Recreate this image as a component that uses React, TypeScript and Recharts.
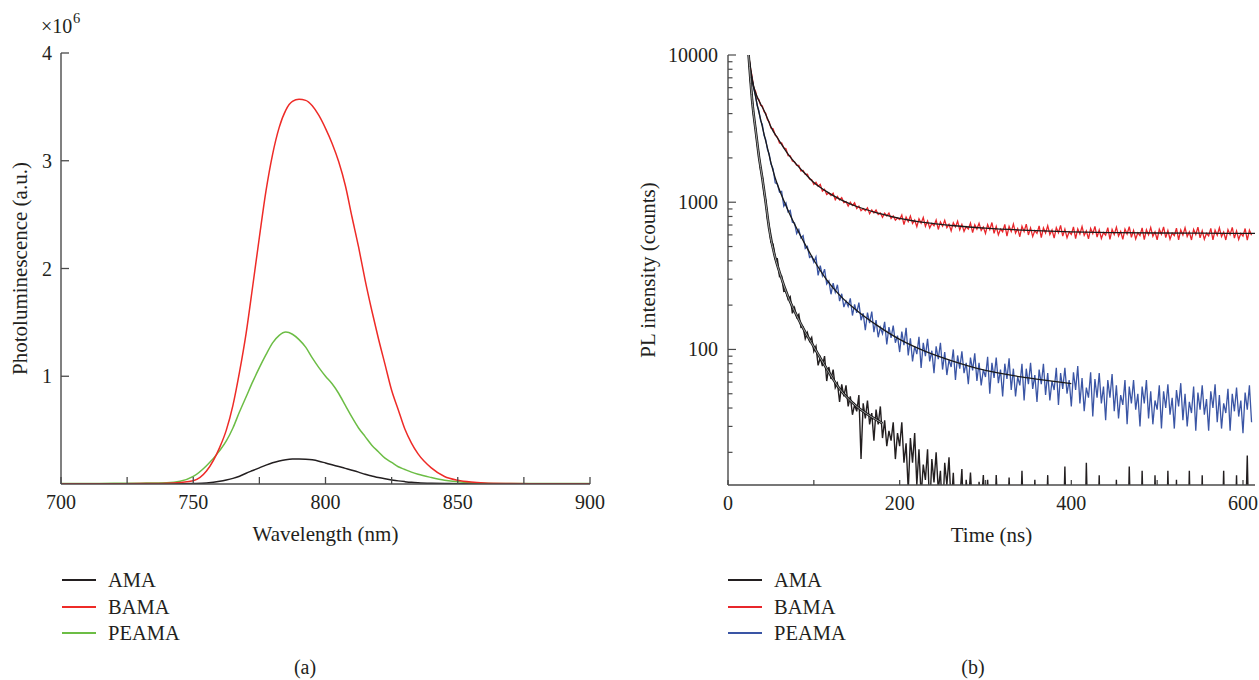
import React from 'react';
import { LineChart, Line, XAxis, YAxis, Label } from 'recharts';

const SERIF = '"Liberation Serif", "DejaVu Serif", serif';
const INK = '#231f20';
const AXIS = '#4a4a4a';
const TICK_FONT = 20;
const TITLE_FONT = 21;

// ---- (a) steady-state PL, intensity in units of 1e6 ----
const WAVELENGTH = [
  700, 710, 720, 730, 740, 745, 750, 755, 760,
  762.5, 765, 767.5, 770, 772.5, 775, 777.5, 780, 782.5, 785,
  787.5, 790, 792.5, 795, 797.5, 800, 802.5, 805, 807.5, 810,
  812.5, 815, 817.5, 820, 822.5, 825, 827.5, 830, 832.5, 835,
  840, 845, 850, 855, 860, 870, 880, 890, 900,
];
const AMA_PL = [
  0.002, 0.002, 0.002, 0.002, 0.002, 0.003, 0.005, 0.01, 0.025,
  0.037, 0.052, 0.072, 0.1, 0.125, 0.15, 0.175, 0.197, 0.213, 0.225,
  0.231, 0.232, 0.23, 0.224, 0.212, 0.195, 0.178, 0.162, 0.145, 0.128,
  0.11, 0.09, 0.075, 0.06, 0.048, 0.038, 0.029, 0.022, 0.016, 0.012,
  0.007, 0.004, 0.003, 0.002, 0.002, 0.002, 0.002, 0.002, 0.002,
];
const BAMA_PL = [
  0.003, 0.003, 0.003, 0.004, 0.008, 0.015, 0.03, 0.12, 0.34,
  0.5, 0.73, 1.04, 1.4, 1.84, 2.29, 2.72, 3.06, 3.31, 3.47,
  3.55, 3.57, 3.56, 3.51, 3.42, 3.3, 3.16, 2.99, 2.77, 2.48,
  2.2, 1.89, 1.61, 1.35, 1.11, 0.87, 0.69, 0.51, 0.38, 0.28,
  0.15, 0.07, 0.035, 0.018, 0.01, 0.005, 0.003, 0.003, 0.003,
];
const PEAMA_PL = [
  0.005, 0.005, 0.006, 0.008, 0.012, 0.025, 0.07, 0.17, 0.31,
  0.4, 0.52, 0.67, 0.81, 0.95, 1.08, 1.2, 1.31, 1.38, 1.41,
  1.39, 1.34, 1.27, 1.17, 1.08, 1.0, 0.93, 0.84, 0.73, 0.62,
  0.52, 0.44, 0.36, 0.3, 0.24, 0.2, 0.16, 0.135, 0.11, 0.09,
  0.06, 0.035, 0.02, 0.012, 0.008, 0.005, 0.004, 0.004, 0.004,
];
const WL_TICKS = [700, 725, 750, 775, 800, 825, 850, 875, 900];
const PL_TICKS = [1, 2, 3, 4];

// ---- (b) time-resolved PL (counts) ----
const TIME = [
  24, 26, 28, 30, 32, 34, 36, 38, 40, 42, 44, 46, 48, 50,
  52.5, 55, 57.5, 60, 62.5, 65, 67.5, 70, 72.5, 75, 77.5, 80, 82.5, 85, 87.5, 90, 92.5, 95, 97.5, 100,
  102.5, 105, 107.5, 110, 112.5, 115, 117.5, 120, 122.5, 125, 127.5, 130, 132.5, 135, 137.5, 140, 142.5, 145, 147.5, 150,
  152.5, 155, 157.5, 160, 162.5, 165, 167.5, 170, 172.5, 175, 177.5, 180, 182.5, 185, 187.5, 190, 192.5, 195, 197.5, 200,
  202.5, 205, 207.5, 210, 212.5, 215, 217.5, 220, 222.5, 225, 227.5, 230, 232.5, 235, 237.5, 240, 242.5, 245, 247.5, 250,
  252.5, 255, 257.5, 260, 262.5, 265, 267.5, 270, 272.5, 275, 277.5, 280, 282.5, 285, 287.5, 290, 292.5, 295, 297.5, 300,
  302.5, 305, 307.5, 310, 312.5, 315, 317.5, 320, 322.5, 325, 327.5, 330, 332.5, 335, 337.5, 340, 342.5, 345, 347.5, 350,
  352.5, 355, 357.5, 360, 362.5, 365, 367.5, 370, 372.5, 375, 377.5, 380, 382.5, 385, 387.5, 390, 392.5, 395, 397.5, 400,
  402.5, 405, 407.5, 410, 412.5, 415, 417.5, 420, 422.5, 425, 427.5, 430, 432.5, 435, 437.5, 440, 442.5, 445, 447.5, 450,
  452.5, 455, 457.5, 460, 462.5, 465, 467.5, 470, 472.5, 475, 477.5, 480, 482.5, 485, 487.5, 490, 492.5, 495, 497.5, 500,
  502.5, 505, 507.5, 510, 512.5, 515, 517.5, 520, 522.5, 525, 527.5, 530, 532.5, 535, 537.5, 540, 542.5, 545, 547.5, 550,
  552.5, 555, 557.5, 560, 562.5, 565, 567.5, 570, 572.5, 575, 577.5, 580, 582.5, 585, 587.5, 590, 592.5, 595, 597.5, 600,
  602.5, 605, 607.5, 610,
];
const AMA_COUNTS = [
  10000, 6800, 5150, 3800, 3230, 2480, 2110, 1660, 1500, 1150, 1030, 770, 690, 535,
  519, 412, 413, 312, 314, 248, 249, 219, 228, 176, 192, 165, 173, 141, 142, 118, 130, 114, 121, 97,
  105, 78, 88, 77, 90, 61, 76, 63, 73, 55, 59, 44, 58, 48, 57, 41, 48, 36, 42, 38,
  49, 18, 43, 34, 45, 31, 37, 24, 39, 31, 41, 25, 33, 22, 28, 24, 32, 18, 27, 22,
  32, 17, 23, 11, 25, 17, 27, 12, 21, 10, 16.5, 13, 21, 8, 18, 12.5, 20, 11, 15, 7,
  17, 12, 18.5, 8.6, 14.5, 7, 12, 9.4, 15.4, 6, 13, 9, 14.6, 8, 11, 5.5, 12.6, 8.8, 14, 6.5,
  13, 6, 9, 5, 14, 7, 11, 4, 9, 5, 13.5, 6, 12, 4, 8, 5, 15, 5, 10, 4,
  8, 4, 13, 5, 11, 4, 7, 5, 14, 4, 9, 4, 7, 5, 12, 4, 16, 4, 8, 4,
  6, 4, 11, 3, 7, 3, 17, 4, 6, 3, 9, 4, 14, 3, 6, 4, 5, 3, 8, 3,
  13, 4, 6, 3, 5, 3, 16, 4, 6, 3, 7, 3, 15, 4, 5, 3, 6, 3, 14, 4,
  5, 3, 7, 3, 15, 4, 6, 3, 13, 3, 5, 4, 6, 3, 15, 3, 5, 4, 6, 3,
  14, 3, 5, 4, 6, 3, 7, 3, 5, 4, 15, 3, 6, 3, 5, 4, 14, 3, 6, 3,
  5, 19, 4, 3,
];
const BAMA_COUNTS = [
  10000, 8250, 7150, 5950, 5700, 5080, 4980, 4560, 4500, 4120, 4010, 3640, 3520, 3190,
  3150, 2860, 2770, 2520, 2525, 2345, 2305, 2075, 2065, 1905, 1880, 1780, 1780, 1630, 1645, 1545, 1550, 1440, 1420, 1320,
  1365, 1285, 1320, 1190, 1225, 1130, 1155, 1110, 1150, 1040, 1095, 1035, 1075, 995, 1010, 940, 1000, 950, 990, 905,
  940, 875, 905, 875, 915, 835, 885, 845, 885, 825, 845, 790, 843, 807, 843, 775, 808, 756, 782, 762,
  820, 705, 792, 739, 807, 718, 756, 681, 771, 721, 787, 685, 746, 668, 718, 692, 758, 653, 735, 688,
  753, 672, 708, 639, 726, 680, 744, 649, 707, 634, 682, 658, 721, 622, 702, 657, 719, 643, 679, 614,
  705, 651, 728, 615, 686, 600, 657, 630, 707, 589, 686, 632, 710, 618, 662, 583, 686, 633, 710, 599,
  669, 584, 641, 614, 690, 575, 670, 618, 693, 604, 648, 571, 672, 620, 695, 588, 656, 573, 630, 604,
  679, 565, 659, 608, 683, 595, 639, 563, 663, 612, 686, 580, 648, 567, 623, 598, 672, 560, 653, 603,
  677, 590, 633, 559, 657, 608, 682, 577, 644, 563, 619, 594, 669, 557, 650, 600, 674, 587, 630, 556,
  655, 606, 680, 575, 642, 561, 617, 592, 666, 555, 648, 598, 671, 585, 628, 554, 653, 604, 678, 573,
  640, 560, 615, 590, 664, 554, 646, 597, 670, 584, 627, 554, 651, 602, 675, 571, 639, 559, 614, 589,
  663, 553, 645, 596,
];
const PEAMA_COUNTS = [
  10000, 7850, 6900, 5900, 5300, 4520, 4180, 3580, 3380, 2840, 2660, 2280, 2130, 1820,
  1692, 1355, 1330, 1171, 1186, 938, 988, 859, 879, 730, 723, 612, 652, 571, 592, 486, 501, 422, 430, 392,
  425, 318, 371, 317, 351, 278, 292, 237, 282, 245, 275, 213, 239, 194, 213, 196, 222, 170, 202, 177,
  208, 158, 176, 135, 178, 151, 181, 131, 158, 121, 141, 128, 154, 108, 142, 120, 145, 111, 124, 96,
  132, 107, 140, 91, 119, 83, 105, 93, 122, 75, 111, 90, 118, 83, 98, 69, 105, 86, 111, 73,
  96, 67, 85, 76, 100, 62, 91, 74, 97, 69, 81, 58, 88, 72, 94, 61, 81, 57, 73, 65,
  89, 50, 81, 64, 88, 59, 73, 48, 80, 63, 87, 53, 74, 48, 65, 57, 80, 45, 74, 58,
  81, 54, 67, 44, 73, 58, 80, 49, 69, 45, 61, 53, 75, 42, 69, 54, 75, 50, 62, 41,
  70, 53, 77, 43, 64, 38, 55, 47, 70, 35, 63, 47, 69, 43, 56, 33, 62, 47, 68, 38,
  57, 34, 49, 42, 62, 31, 56, 43, 62, 39, 50, 30, 56, 43, 62, 34, 52, 31, 45, 39,
  57, 29, 52, 40, 58, 36, 47, 29, 53, 41, 59, 33, 50, 30, 44, 37, 56, 28, 51, 39,
  57, 36, 46, 28, 52, 40, 58, 32, 49, 29, 43, 37, 54, 28, 50, 38, 55, 35, 45, 27,
  51, 39, 57, 32,
];

// fitted decay curves
const AMA_FIT_T = [24, 26, 28, 30, 32, 34, 36, 38, 40, 44, 48, 55, 60, 70, 80, 90, 100, 115, 130, 150, 165, 180];
const AMA_FIT = [10000, 7000, 5000, 3900, 3150, 2550, 2050, 1720, 1450, 990, 660, 420, 335, 228, 170, 131, 104, 74, 54, 41, 35.5, 31.5];
const BAMA_FIT_T = [24, 26, 28, 30, 34, 38, 42, 46, 50, 60, 70, 80, 90, 100, 115, 130, 150, 175, 200, 230, 260, 300, 350, 400, 450, 500, 550, 614];
const BAMA_FIT = [10000, 8400, 7000, 6100, 5200, 4650, 4200, 3700, 3250, 2600, 2120, 1800, 1560, 1360, 1180, 1050, 935, 843, 776, 726, 695, 667, 644, 629, 622, 618, 616, 614];
const PEAMA_FIT_T = [24, 26, 28, 30, 34, 38, 42, 46, 50, 55, 60, 70, 80, 90, 100, 115, 130, 150, 175, 200, 230, 260, 300, 350, 400];
const PEAMA_FIT = [10000, 8000, 6800, 6000, 4600, 3650, 2900, 2330, 1860, 1460, 1210, 880, 665, 515, 405, 297, 234, 184, 144, 117, 97, 84, 72, 64, 58.5];

const TIME_TICKS = [0, 100, 200, 300, 400, 500, 600];
const COUNT_TICKS = [
  20, 30, 40, 50, 60, 70, 80, 90, 100,
  200, 300, 400, 500, 600, 700, 800, 900, 1000,
  2000, 3000, 4000, 5000, 6000, 7000, 8000, 9000, 10000,
];
const DECADES = [100, 1000, 10000];

const COLORS_A = { ama: '#231f20', bama: '#ee2b27', peama: '#6cbd45' };
const COLORS_B = { ama: '#231f20', bama: '#e8262b', peama: '#3a55a5', fit: '#1a1a1a', amaFit: '#a0a0a0' };

const pairs = (xs: number[], ys: number[], xk: string) => xs.map((x, i) => ({ [xk]: x, v: ys[i] }));

const spectra = {
  ama: pairs(WAVELENGTH, AMA_PL, 'wl'),
  bama: pairs(WAVELENGTH, BAMA_PL, 'wl'),
  peama: pairs(WAVELENGTH, PEAMA_PL, 'wl'),
};
const decays = {
  ama: pairs(TIME, AMA_COUNTS, 't'),
  bama: pairs(TIME, BAMA_COUNTS, 't'),
  peama: pairs(TIME, PEAMA_COUNTS, 't'),
  amaFit: pairs(AMA_FIT_T, AMA_FIT, 't'),
  bamaFit: pairs(BAMA_FIT_T, BAMA_FIT, 't'),
  peamaFit: pairs(PEAMA_FIT_T, PEAMA_FIT, 't'),
};

// ticks point into the plot; labels drawn by hand
const bottomTick = (len: number, labelStep: number) => (props: any) => {
  const { x, y, payload } = props;
  const v = payload.value;
  return (
    <g>
      <line x1={x} x2={x} y1={y} y2={y - len} stroke={AXIS} strokeWidth={1.3} />
      {v % labelStep === 0 && (
        <text x={x} y={y + 18} dy="0.35em" textAnchor="middle" fill={INK} fontSize={TICK_FONT}>
          {v}
        </text>
      )}
    </g>
  );
};

const linearYTick = (props: any) => {
  const { x, y, payload } = props;
  return (
    <g>
      <line x1={x} x2={x + 8} y1={y} y2={y} stroke={AXIS} strokeWidth={1.3} />
      <text x={x - 9} y={y} dy="0.35em" textAnchor="end" fill={INK} fontSize={TICK_FONT}>
        {payload.value}
      </text>
    </g>
  );
};

const logYTick = (side: 'left' | 'right') => (props: any) => {
  const { x, y, payload } = props;
  const major = DECADES.includes(payload.value);
  const dir = side === 'left' ? 1 : -1;
  return (
    <g>
      <line x1={x} x2={x + dir * (major ? 8 : 4.5)} y1={y} y2={y} stroke={AXIS} strokeWidth={1.2} />
      {side === 'left' && major && (
        <text x={x - 10} y={y} dy="0.35em" textAnchor="end" fill={INK} fontSize={TICK_FONT}>
          {payload.value}
        </text>
      )}
    </g>
  );
};

const axisLine = { stroke: AXIS, strokeWidth: 1.4 };
const labelStyle = { fill: INK, fontSize: TITLE_FONT };
const LEGEND_ROWS = [580, 607, 633];

const LegendBlock = ({ x, textX, items }: { x: number; textX: number; items: { name: string; color: string }[] }) => (
  <>
    {items.map((it, i) => {
      const cy = LEGEND_ROWS[i];
      return (
        <React.Fragment key={it.name}>
          <div style={{ position: 'absolute', left: x, top: cy - 1, width: 34, height: 2, background: it.color }} />
          <div style={{ position: 'absolute', left: textX, top: cy - 12, lineHeight: '24px', fontSize: 20.5, color: INK }}>
            {it.name}
          </div>
        </React.Fragment>
      );
    })}
  </>
);

const noAnim = { dot: false, isAnimationActive: false } as const;

export default function App() {
  return (
    <div
      style={{
        position: 'absolute',
        left: 0,
        top: 0,
        width: 1259,
        height: 680,
        background: '#fff',
        fontFamily: SERIF,
        color: INK,
        overflow: 'hidden',
      }}
    >
      {/* (a) */}
      <div style={{ position: 'absolute', left: 0, top: 0 }}>
        <LineChart width={620} height={560} margin={{ top: 53, right: 30, bottom: 16, left: 1 }}>
          <XAxis
            dataKey="wl"
            type="number"
            domain={[700, 900]}
            ticks={WL_TICKS}
            interval={0}
            allowDataOverflow
            height={60}
            tickSize={0}
            tickMargin={0}
            tickLine={false}
            axisLine={axisLine}
            tick={bottomTick(7, 50)}
          >
            <Label value="Wavelength (nm)" position="insideBottom" offset={3} style={labelStyle} />
          </XAxis>
          <XAxis xAxisId="top" orientation="top" type="number" domain={[700, 900]} height={0} tick={false} tickLine={false} axisLine={axisLine} />
          <YAxis
            type="number"
            domain={[0, 4]}
            ticks={PL_TICKS}
            interval={0}
            allowDataOverflow
            width={60}
            tickSize={0}
            tickMargin={0}
            tickLine={false}
            axisLine={axisLine}
            tick={linearYTick}
          >
            <Label
              value="Photoluminescence (a.u.)"
              angle={-90}
              position="insideLeft"
              offset={19}
              style={{ ...labelStyle, textAnchor: 'middle' }}
            />
          </YAxis>
          <YAxis yAxisId="r" orientation="right" type="number" domain={[0, 4]} width={0} tick={false} tickLine={false} axisLine={axisLine} />
          <Line data={spectra.ama} dataKey="v" type="monotone" stroke={COLORS_A.ama} strokeWidth={1.5} {...noAnim} />
          <Line data={spectra.peama} dataKey="v" type="monotone" stroke={COLORS_A.peama} strokeWidth={1.5} {...noAnim} />
          <Line data={spectra.bama} dataKey="v" type="monotone" stroke={COLORS_A.bama} strokeWidth={1.5} {...noAnim} />
        </LineChart>
      </div>
      <div style={{ position: 'absolute', left: 41, top: 16, fontSize: 20, lineHeight: 1, whiteSpace: 'nowrap' }}>×10</div>
      <div style={{ position: 'absolute', left: 73, top: 11, fontSize: 14.5, lineHeight: 1 }}>6</div>

      {/* (b) */}
      <div style={{ position: 'absolute', left: 620, top: 0 }}>
        <LineChart width={639} height={560} margin={{ top: 55, right: 4, bottom: 15, left: 8 }}>
          <XAxis
            dataKey="t"
            type="number"
            domain={[0, 614]}
            ticks={TIME_TICKS}
            interval={0}
            allowDataOverflow
            height={60}
            tickSize={0}
            tickMargin={0}
            tickLine={false}
            axisLine={axisLine}
            tick={bottomTick(5, 200)}
          >
            <Label value="Time (ns)" position="insideBottom" offset={3} style={labelStyle} />
          </XAxis>
          <XAxis xAxisId="top" orientation="top" type="number" domain={[0, 614]} height={0} tick={false} tickLine={false} axisLine={axisLine} />
          <YAxis
            type="number"
            scale="log"
            domain={[12, 10000]}
            ticks={COUNT_TICKS}
            interval={0}
            allowDataOverflow
            width={100}
            tickSize={0}
            tickMargin={0}
            tickLine={false}
            axisLine={axisLine}
            tick={logYTick('left')}
          >
            <Label
              value="PL intensity (counts)"
              angle={-90}
              position="insideLeft"
              offset={20}
              style={{ ...labelStyle, textAnchor: 'middle' }}
            />
          </YAxis>
          <YAxis
            yAxisId="mirror"
            orientation="right"
            type="number"
            scale="log"
            domain={[12, 10000]}
            ticks={COUNT_TICKS}
            interval={0}
            allowDataOverflow
            width={0}
            tickSize={0}
            tickMargin={0}
            tickLine={false}
            axisLine={axisLine}
            tick={logYTick('right')}
          />
          <Line data={decays.bama} dataKey="v" type="linear" stroke={COLORS_B.bama} strokeWidth={1.3} {...noAnim} />
          <Line data={decays.peama} dataKey="v" type="linear" stroke={COLORS_B.peama} strokeWidth={1.3} {...noAnim} />
          <Line data={decays.ama} dataKey="v" type="linear" stroke={COLORS_B.ama} strokeWidth={1.4} {...noAnim} />
          <Line data={decays.bamaFit} dataKey="v" type="monotone" stroke={COLORS_B.fit} strokeWidth={1.3} {...noAnim} />
          <Line data={decays.peamaFit} dataKey="v" type="monotone" stroke={COLORS_B.fit} strokeWidth={1.3} {...noAnim} />
          <Line data={decays.amaFit} dataKey="v" type="monotone" stroke={COLORS_B.fit} strokeWidth={2.6} {...noAnim} />
          <Line data={decays.amaFit} dataKey="v" type="monotone" stroke={COLORS_B.amaFit} strokeWidth={1} {...noAnim} />
        </LineChart>
      </div>

      <LegendBlock
        x={62}
        textX={108}
        items={[
          { name: 'AMA', color: COLORS_A.ama },
          { name: 'BAMA', color: COLORS_A.bama },
          { name: 'PEAMA', color: COLORS_A.peama },
        ]}
      />
      <LegendBlock
        x={728}
        textX={774}
        items={[
          { name: 'AMA', color: COLORS_B.ama },
          { name: 'BAMA', color: COLORS_B.bama },
          { name: 'PEAMA', color: COLORS_B.peama },
        ]}
      />
      <div style={{ position: 'absolute', left: 305, top: 667, transform: 'translate(-50%, -50%)', fontSize: 20 }}>(a)</div>
      <div style={{ position: 'absolute', left: 973, top: 667, transform: 'translate(-50%, -50%)', fontSize: 20 }}>(b)</div>
    </div>
  );
}
